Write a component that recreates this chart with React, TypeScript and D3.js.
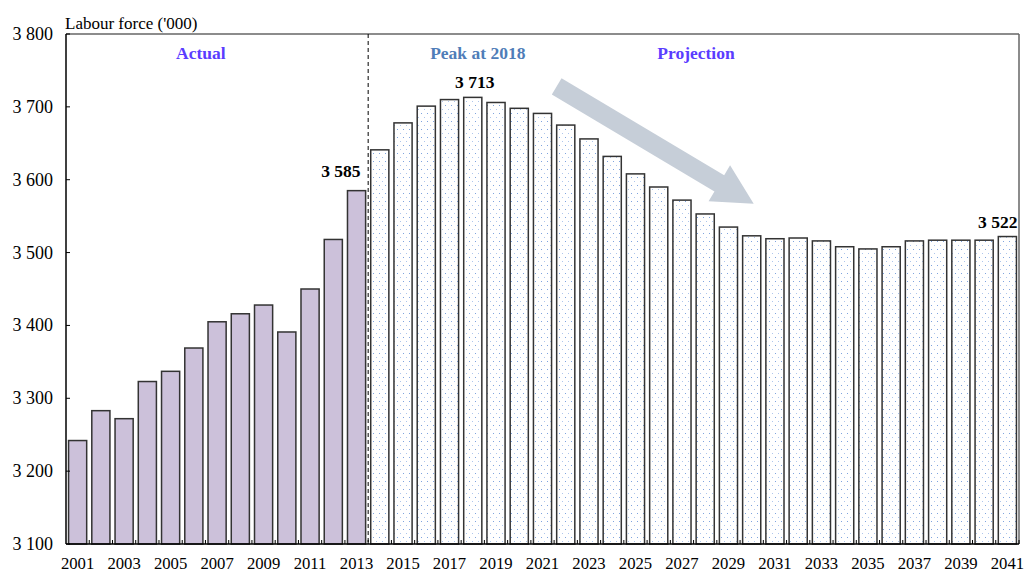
import React from 'react';
import * as d3 from 'd3';

// labour force ('000), 2001-2013 actual, 2014-2041 projection
const actualYears = ['2001', '2002', '2003', '2004', '2005', '2006', '2007', '2008', '2009', '2010', '2011', '2012', '2013'];
const actualValues = [3242, 3283, 3272, 3323, 3337, 3369, 3405, 3416, 3428, 3391, 3450, 3518, 3585];

const projYears = [
    '2014', '2015', '2016', '2017', '2018', '2019', '2020', '2021', '2022', '2023', '2024', '2025', '2026', '2027',
    '2028', '2029', '2030', '2031', '2032', '2033', '2034', '2035', '2036', '2037', '2038', '2039', '2040', '2041',
];
const projValues = [
    3641, 3678, 3701, 3710, 3713, 3706, 3698, 3691, 3675, 3656, 3632, 3608, 3590, 3572,
    3553, 3535, 3523, 3519, 3520, 3516, 3508, 3505, 3508, 3516, 3517, 3517, 3517, 3522,
];

const yTicks = [3100, 3200, 3300, 3400, 3500, 3600, 3700, 3800];
const labelYears = ['2013', '2018', '2041'];

const W = 1027,
    H = 572;
const margin = { top: 34, right: 8, bottom: 28, left: 66 };
const font = '"Liberation Serif", "Times New Roman", serif';

export default function App() {
    const allYears = [...actualYears, ...projYears];
    const valueOf: Record<string, number> = {};
    actualYears.forEach((y, i) => (valueOf[y] = actualValues[i]));
    projYears.forEach((y, i) => (valueOf[y] = projValues[i]));

    const x = d3
        .scaleBand()
        .domain(allYears)
        .range([margin.left, W - margin.right])
        .paddingInner(0.22)
        .paddingOuter(0.11);
    const y = d3.scaleLinear().domain([3100, 3800]).range([H - margin.bottom, margin.top]);
    const step = x.step();
    const x0 = margin.left;
    const x1 = W - margin.right;
    const yb = y(3100);
    const yt = y(3800);
    const fmt = (v: number) => d3.format(',')(v).replace(',', ' ');

    const divX = x0 + actualYears.length * step;

    // arrow annotation, from after the peak down to the flat part
    const ax0 = x('2022')!;
    const ay0 = y(3728);
    const ax1 = x('2030')! + x.bandwidth() / 2 + 2;
    const ay1 = y(3567);
    const len = Math.hypot(ax1 - ax0, ay1 - ay0);
    const ang = (Math.atan2(ay1 - ay0, ax1 - ax0) * 180) / Math.PI;
    const headLen = 40,
        shaftW = 19,
        headW = 42;

    const labelPos: Record<string, { dx: number; anchor: string; dy: number }> = {
        '2013': { dx: x.bandwidth() - 5, anchor: 'end', dy: -14 },
        '2018': { dx: x.bandwidth() / 2 + 2, anchor: 'middle', dy: -9 },
        '2041': { dx: x.bandwidth() + 1, anchor: 'end', dy: -9 },
    };

    return (
        <svg width={W} height={H} style={{ position: 'absolute', left: 0, top: 0, background: '#fff' }}>
            <defs>
                <pattern id="dots" patternUnits="userSpaceOnUse" width="6" height="8">
                    <rect width="6" height="8" fill="#fff" />
                    <rect x="1" y="1" width="1" height="1" fill="#7fa4de" />
                    <rect x="4" y="5" width="1" height="1" fill="#aec6ec" />
                </pattern>
            </defs>

            {/* frame top and right */}
            <line x1={x0} x2={x1} y1={yt} y2={yt} stroke="#666" strokeWidth={1.5} />
            <line x1={x1} x2={x1} y1={yt} y2={yb} stroke="#666" strokeWidth={1.5} />

            <text x={x0 - 1} y={29} fontFamily={font} fontSize={17} fill="#000">
                Labour force ('000)
            </text>

            {/* bars */}
            {actualYears.map((yr, i) => (
                <rect
                    key={yr}
                    x={x(yr)}
                    y={y(actualValues[i])}
                    width={x.bandwidth()}
                    height={yb - y(actualValues[i])}
                    fill="#ccc1da"
                    stroke="#333"
                    strokeWidth={1.5}
                />
            ))}
            {projYears.map((yr, i) => (
                <rect
                    key={yr}
                    x={x(yr)}
                    y={y(projValues[i])}
                    width={x.bandwidth()}
                    height={yb - y(projValues[i])}
                    fill="url(#dots)"
                    stroke="#333"
                    strokeWidth={1.5}
                />
            ))}

            {/* divider */}
            <line x1={divX} x2={divX} y1={yt} y2={yb} stroke="#000" strokeWidth={1} strokeDasharray="4,3" />

            {/* arrow */}
            <g transform={`translate(${ax0},${ay0}) rotate(${ang})`}>
                <path
                    d={`M0,${-shaftW / 2} L${len - headLen},${-shaftW / 2} L${len - headLen},${-headW / 2} L${len},0 L${len - headLen},${headW / 2} L${len - headLen},${shaftW / 2} L0,${shaftW / 2} Z`}
                    fill="#c6ced8"
                />
            </g>

            {/* section headings */}
            <text x={x('2006')! + x.bandwidth() / 2 + 7} y={59} textAnchor="middle" fontFamily={font} fontSize={17.5} fontWeight="bold" fill="#5a3cff">
                Actual
            </text>
            <text x={x('2018')! + x.bandwidth() / 2 + 5} y={59} textAnchor="middle" fontFamily={font} fontSize={17.5} fontWeight="bold" fill="#4f7db8">
                Peak at 2018
            </text>
            <text x={x('2027')! + x.bandwidth() / 2 + 14} y={59} textAnchor="middle" fontFamily={font} fontSize={17.5} fontWeight="bold" fill="#5a3cff">
                Projection
            </text>

            {/* value labels */}
            {labelYears.map((yr) => (
                <text
                    key={yr}
                    x={x(yr)! + labelPos[yr].dx}
                    y={y(valueOf[yr]) + labelPos[yr].dy}
                    textAnchor={labelPos[yr].anchor}
                    fontFamily={font}
                    fontSize={17.5}
                    fontWeight="bold"
                    fill="#000"
                >
                    {fmt(valueOf[yr])}
                </text>
            ))}

            {/* y axis */}
            <line x1={x0} x2={x0} y1={yt} y2={yb} stroke="#000" strokeWidth={1.5} />
            {yTicks.map((t) => (
                <g key={t}>
                    <line x1={x0} x2={x0 + 4} y1={y(t)} y2={y(t)} stroke="#000" strokeWidth={1} />
                    <text x={x0 - 13} y={y(t) + 6} textAnchor="end" fontFamily={font} fontSize={18} fill="#000">
                        {fmt(t)}
                    </text>
                </g>
            ))}

            {/* x axis */}
            <line x1={x0} x2={x1} y1={yb} y2={yb} stroke="#000" strokeWidth={1.5} />
            {allYears.map((yr, i) => (
                <line key={'t' + yr} x1={x0 + (i + 1) * step} x2={x0 + (i + 1) * step} y1={yb} y2={yb - 4} stroke="#000" strokeWidth={1} />
            ))}
            {allYears
                .filter((yr, i) => i % 2 === 0)
                .map((yr) => (
                    <text key={yr} x={x(yr)! + x.bandwidth() / 2} y={yb + 25} textAnchor="middle" fontFamily={font} fontSize={16.7} fill="#000">
                        {yr}
                    </text>
                ))}
        </svg>
    );
}
